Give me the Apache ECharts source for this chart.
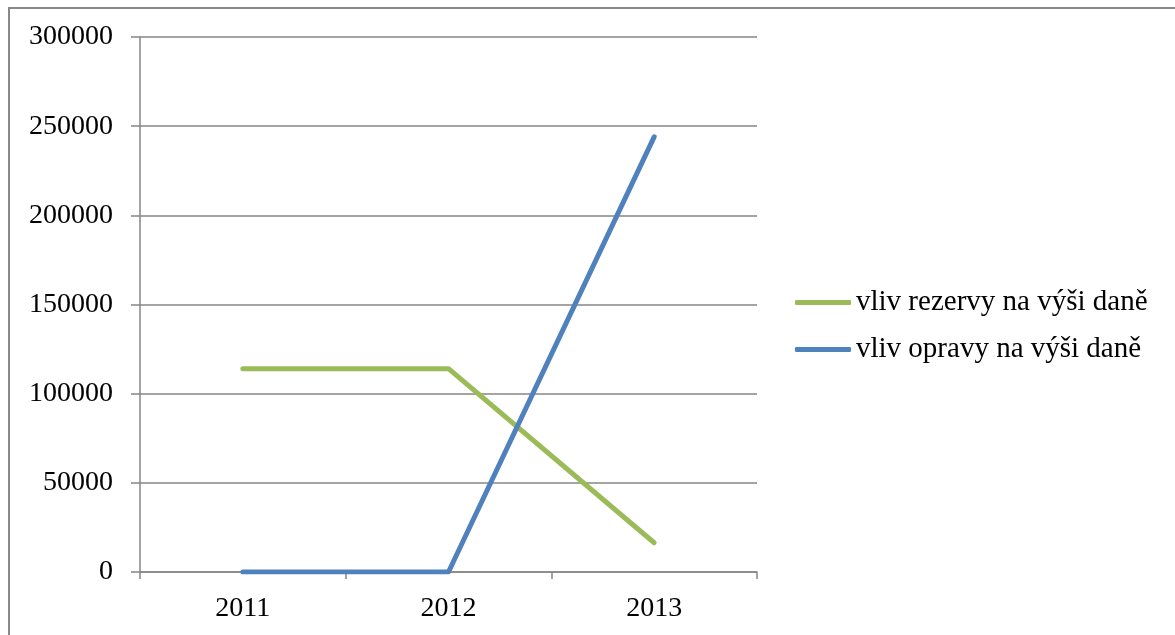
<!DOCTYPE html>
<html>
<head>
<meta charset="utf-8">
<script src="https://cdn.jsdelivr.net/npm/echarts@6/dist/echarts.min.js"></script>
<style>
html,body{margin:0;padding:0;background:#fff;}
#c{width:1175px;height:635px;}
</style>
</head>
<body>
<div id="c"></div>
<script>
const categories = ['2011', '2012', '2013'];
const rezervy = [114000, 114000, 16400];
const opravy = [0, 0, 244000];
const seriesNames = ['vliv rezervy na výši daně', 'vliv opravy na výši daně'];

const chart = echarts.init(document.getElementById('c'));
const font = 'Liberation Serif';
chart.setOption({
  animation: false,
  backgroundColor: '#fff',
  graphic: [{
    type: 'rect',
    shape: {x: 9, y: 8, width: 1200, height: 700},
    style: {fill: 'none', stroke: '#888888', lineWidth: 2},
    silent: true
  }],
  grid: {left: 140, right: 418, top: 37, bottom: 63},
  legend: {
    orient: 'vertical',
    left: 795,
    top: 288,
    padding: 0,
    itemWidth: 56,
    itemHeight: 5,
    itemGap: 18,
    icon: 'roundRect',
    textStyle: {fontFamily: font, fontSize: 29, color: '#000'},
    data: seriesNames
  },
  xAxis: {
    type: 'category',
    data: categories,
    boundaryGap: true,
    axisLine: {lineStyle: {color: '#868686', width: 1.5}},
    axisTick: {show: true, length: 7, lineStyle: {color: '#868686', width: 1.5}},
    axisLabel: {fontFamily: font, fontSize: 28, color: '#000', margin: 23},
    splitLine: {show: false}
  },
  yAxis: {
    type: 'value',
    min: 0, max: 300000, interval: 50000,
    axisLine: {show: true, lineStyle: {color: '#868686', width: 1.5}},
    axisTick: {show: true, length: 9, lineStyle: {color: '#868686', width: 1.5}},
    axisLabel: {fontFamily: font, fontSize: 28, color: '#000', margin: 27,
      formatter: function (v) { return String(v); }},
    splitLine: {show: true, lineStyle: {color: '#868686', width: 1.5}}
  },
  series: [
    {name: seriesNames[0], type: 'line', data: rezervy, symbol: 'none',
     lineStyle: {color: '#9BBB59', width: 5, cap: 'round', join: 'round'}, itemStyle: {color: '#9BBB59'}},
    {name: seriesNames[1], type: 'line', data: opravy, symbol: 'none',
     lineStyle: {color: '#4F81BD', width: 5, cap: 'round', join: 'round'}, itemStyle: {color: '#4F81BD'}}
  ]
});
</script>
</body>
</html>
